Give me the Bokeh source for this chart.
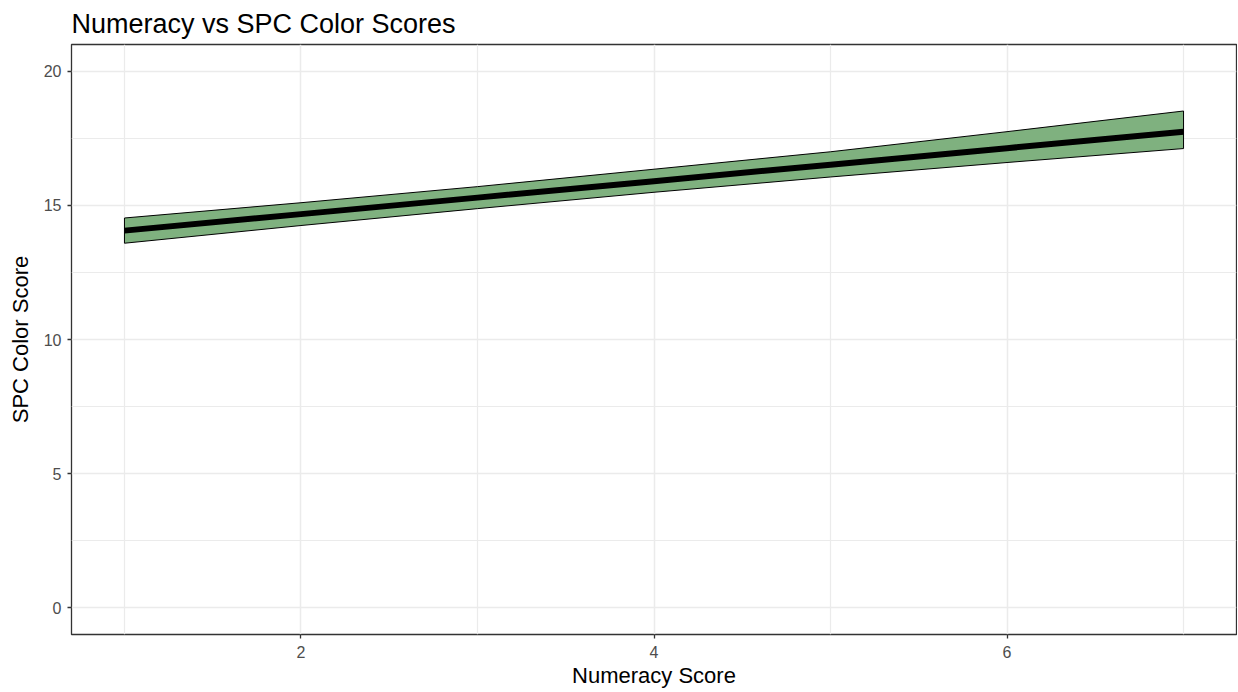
from bokeh.plotting import figure
from bokeh.models import FixedTicker, Range1d
from bokeh.embed import file_html
from bokeh.resources import INLINE

# Data
numeracy = [1, 2, 3, 4, 5, 6, 7]
fit = [14.06, 14.675, 15.29, 15.905, 16.52, 17.135, 17.75]
lower = [13.59, 14.25, 14.88, 15.49, 16.06, 16.6, 17.12]
upper = [14.53, 15.1, 15.7, 16.35, 17.0, 17.75, 18.52]

x_ticks = [2, 4, 6]
x_minor = [1, 3, 5, 7]
y_ticks = [0, 5, 10, 15, 20]
y_minor = [2.5, 7.5, 12.5, 17.5]

FONT = "Liberation Sans"

p = figure(output_backend="svg", toolbar_location=None,
           x_range=Range1d(0.7, 7.3), y_range=Range1d(-1, 21),
           min_border_left=71, min_border_right=1, min_border_top=44, min_border_bottom=40,
           frame_width=1165, frame_height=590,
           title="Numeracy vs SPC Color Scores")

p.title.text_font = FONT
p.title.text_font_size = "27px"
p.title.text_font_style = "normal"
p.title.text_color = "black"
p.title.text_line_height = 0.8
p.title.align = "left"
p.title.offset = 0
p.title.standoff = 12

p.outline_line_color = "#333333"
p.outline_line_width = 1.3
p.background_fill_color = "white"
p.border_fill_color = "white"

# Band (confidence ribbon)
band_x = numeracy + numeracy[::-1]
band_y = upper + lower[::-1]
p.patch(band_x, band_y, fill_color="#7FB17F", fill_alpha=1.0, line_color="black", line_width=1)

# Fit line
p.line(numeracy, fit, line_color="black", line_width=6)

for ax, ticks, minor in ((p.xaxis[0], x_ticks, x_minor), (p.yaxis[0], y_ticks, y_minor)):
    ax.ticker = FixedTicker(ticks=ticks, minor_ticks=minor)
    ax.axis_line_color = None
    ax.major_tick_line_color = "#333333"
    ax.major_tick_line_width = 1.3
    ax.major_tick_out = 4
    ax.major_tick_in = 0
    ax.minor_tick_line_color = None
    ax.major_label_text_font = FONT
    ax.major_label_text_font_size = "16px"
    ax.major_label_text_color = "#4D4D4D"
    ax.axis_label_text_font = FONT
    ax.axis_label_text_font_size = "22px"
    ax.axis_label_text_font_style = "normal"
    ax.axis_label_text_color = "black"

p.xaxis.axis_label = "Numeracy Score"
p.yaxis.axis_label = "SPC Color Score"
p.xaxis.major_label_standoff = 7
p.yaxis.major_label_standoff = 6
p.xaxis.axis_label_standoff = 2
p.yaxis.axis_label_standoff = 8

p.xgrid.ticker = FixedTicker(ticks=x_ticks, minor_ticks=x_minor)
p.ygrid.ticker = FixedTicker(ticks=y_ticks, minor_ticks=y_minor)
for g in (p.xgrid[0], p.ygrid[0]):
    g.grid_line_color = "#EBEBEB"
    g.grid_line_width = 1.5
    g.minor_grid_line_color = "#EBEBEB"
    g.minor_grid_line_width = 1.2

open("out.html", "w").write(file_html(p, INLINE))
